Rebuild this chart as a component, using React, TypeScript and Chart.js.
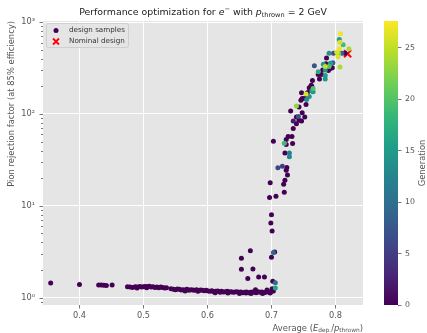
import React, { useEffect, useRef } from "react";
import { Chart, registerables } from "chart.js";
Chart.register(...registerables);

// ---------------- data ----------------
// flat band of early designs (generation 0)
const bandX = [
  0.355, 0.4, 0.43, 0.434, 0.438, 0.442, 0.451,
  0.475, 0.479, 0.483, 0.487, 0.49, 0.494, 0.497, 0.5, 0.503, 0.506, 0.509, 0.512, 0.515, 0.518, 0.521, 0.524, 0.527, 0.53, 0.533, 0.536,
  0.547, 0.55, 0.553, 0.556, 0.559, 0.562, 0.565, 0.568, 0.571, 0.574, 0.577, 0.58, 0.583, 0.586, 0.589, 0.592, 0.595, 0.598,
  0.601, 0.604, 0.607, 0.61, 0.613, 0.616, 0.619, 0.622, 0.625, 0.628, 0.631, 0.634, 0.637, 0.64, 0.643, 0.646, 0.649, 0.652, 0.655, 0.658,
  0.661, 0.664, 0.667, 0.67, 0.673, 0.676, 0.679, 0.682, 0.685, 0.688, 0.691, 0.694, 0.697, 0.7, 0.703,
  0.505, 0.49, 0.565, 0.585, 0.612, 0.632, 0.65, 0.668, 0.686, 0.698, 0.675, 0.693, 0.701, 0.543, 0.62, 0.66,
];
const bandY = [
  1.44, 1.39, 1.37, 1.37, 1.36, 1.35, 1.37,
  1.31, 1.3, 1.29, 1.31, 1.3, 1.32, 1.3, 1.31, 1.32, 1.31, 1.33, 1.3, 1.31, 1.29, 1.3, 1.28, 1.3, 1.29, 1.27, 1.28,
  1.23, 1.22, 1.24, 1.23, 1.21, 1.22, 1.21, 1.23, 1.2, 1.22, 1.21, 1.2, 1.22, 1.19, 1.21, 1.2, 1.19, 1.2,
  1.18, 1.17, 1.19, 1.16, 1.17, 1.18, 1.16, 1.17, 1.15, 1.16, 1.17, 1.15, 1.16, 1.14, 1.15, 1.16, 1.14, 1.15, 1.13, 1.14,
  1.15, 1.13, 1.14, 1.15, 1.14, 1.13, 1.16, 1.14, 1.15, 1.13, 1.14, 1.16, 1.15, 1.17, 1.18,
  1.28, 1.27, 1.18, 1.17, 1.13, 1.12, 1.11, 1.11, 1.11, 1.12, 1.22, 1.21, 1.25, 1.25, 1.14, 1.12,
];
const bandGen = 0;

// transition outliers
const transX = [0.667, 0.653, 0.653, 0.671, 0.663, 0.68, 0.689, 0.7, 0.705, 0.702, 0.699, 0.701, 0.7, 0.703, 0.706, 0.706];
const transY = [3.24, 2.68, 2.04, 2.05, 1.61, 1.68, 1.68, 2.75, 3.14, 1.51, 6.5, 5.3, 8.0, 3.1, 1.45, 1.27];
const transGen = [0, 0, 0, 0, 0, 0, 0, 0, 0, 0, 0, 0, 0, 9, 10, 16];

// steep rise
const riseX = [
  0.697, 0.707, 0.698, 0.72, 0.719, 0.721, 0.725, 0.723, 0.724, 0.71,
  0.717, 0.728, 0.728, 0.721, 0.703, 0.723, 0.733, 0.72, 0.723, 0.726,
  0.732, 0.734, 0.734, 0.739, 0.739, 0.743, 0.747, 0.752, 0.742, 0.748,
  0.73, 0.739, 0.743, 0.754, 0.746, 0.748, 0.751, 0.754, 0.755, 0.759,
  0.755, 0.756, 0.747, 0.76, 0.763, 0.765, 0.759, 0.762, 0.763, 0.765,
  0.764, 0.775, 0.784, 0.784, 0.778, 0.773, 0.773, 0.78, 0.784, 0.789,
  0.792, 0.795, 0.79, 0.784, 0.781, 0.785, 0.792, 0.796, 0.767, 0.807,
];
const riseY = [
  12.3, 12.7, 17.8, 14.0, 17.2, 19.0, 21.6, 24.4, 26.1, 25.9,
  27.0, 34.1, 37.6, 37.6, 50.5, 46.5, 47.6, 48.0, 52.7, 57.0,
  57.0, 69.4, 84.0, 78.5, 92.6, 85.5, 84.0, 92.6, 94.0, 103,
  108, 122, 119, 127, 141, 147, 147, 165, 144, 155,
  160, 170, 170, 181, 178, 175, 193, 206, 200, 190,
  232, 240, 240, 262, 270, 270, 288, 302, 302, 298,
  312, 318, 328, 328, 349, 353, 358, 361, 336, 324,
];
const riseGen = [
  0, 0, 0, 0, 0, 0, 0, 0, 0, 6,
  5, 13, 12, 0, 0, 0, 0, 19, 0, 0,
  0, 0, 2, 0, 0, 0, 0, 0, 7, 0,
  0, 23, 0, 0, 0, 0, 0, 26, 14, 14,
  0, 0, 0, 0, 15, 14, 0, 0, 0, 20,
  0, 0, 15, 15, 0, 0, 17, 0, 14, 0,
  0, 0, 20, 25, 15, 0, 15, 9, 7, 24,
];

// best designs near the top
const topX = [0.808, 0.806, 0.807, 0.812, 0.821, 0.806, 0.815, 0.81, 0.802, 0.797, 0.79, 0.786, 0.804, 0.805];
const topY = [748, 649, 606, 568, 514, 514, 460, 460, 470, 460, 460, 406, 420, 455];
const topGen = [27, 15, 26, 19, 24, 27, 0, 8, 26, 6, 14, 0, 26, 22];

const nominalX = [0.819];
const nominalY = [454];

const xTicks = [0.4, 0.5, 0.6, 0.7, 0.8];
const yTicks = [1, 10, 100, 1000];
const genTicks = [0, 5, 10, 15, 20, 25];
const X_MIN = 0.343;
const X_MAX = 0.843;
const Y_MIN = 0.83;
const Y_MAX = 1030;
const GEN_MAX = 27.6;

// ---------------- helpers ----------------
const FONT = '"DejaVu Sans", sans-serif';
const VIRIDIS = ["#440154", "#482878", "#3e4989", "#31688e", "#26828e", "#1f9e89", "#35b779", "#6ece58", "#b5de2b", "#fde725"];
function hexRgb(h: string) {
  return [parseInt(h.slice(1, 3), 16), parseInt(h.slice(3, 5), 16), parseInt(h.slice(5, 7), 16)];
}
function viridis(t: number): string {
  t = Math.max(0, Math.min(1, t));
  const n = VIRIDIS.length - 1;
  const f = t * n;
  const i = Math.min(n - 1, Math.floor(f));
  const u = f - i;
  const a = hexRgb(VIRIDIS[i]);
  const b = hexRgb(VIRIDIS[i + 1]);
  const c = a.map((v, k) => Math.round(v + (b[k] - v) * u));
  return `rgb(${c[0]},${c[1]},${c[2]})`;
}
const SUP: Record<string, string> = { "0": "⁰", "1": "¹", "2": "²", "3": "³" };

type Seg = { t: string; k: "n" | "i" | "sup" | "sub" };
function segFont(k: string, size: number) {
  const s = k === "sup" || k === "sub" ? size * 0.7 : size;
  return `${k === "i" ? "italic " : ""}${s}px ${FONT}`;
}
function richWidth(ctx: CanvasRenderingContext2D, segs: Seg[], size: number) {
  let w = 0;
  for (const s of segs) {
    ctx.font = segFont(s.k, size);
    w += ctx.measureText(s.t).width;
  }
  return w;
}
function drawRich(ctx: CanvasRenderingContext2D, segs: Seg[], x: number, y: number, size: number, color: string) {
  ctx.fillStyle = color;
  ctx.textAlign = "left";
  ctx.textBaseline = "alphabetic";
  let cx = x;
  for (const s of segs) {
    ctx.font = segFont(s.k, size);
    const dy = s.k === "sup" ? -size * 0.38 : s.k === "sub" ? size * 0.22 : 0;
    ctx.fillText(s.t, cx, y + dy);
    cx += ctx.measureText(s.t).width;
  }
}

const titleSegs: Seg[] = [
  { t: "Performance optimization for ", k: "n" },
  { t: "e", k: "i" },
  { t: "−", k: "sup" },
  { t: " with ", k: "n" },
  { t: "p", k: "i" },
  { t: "thrown", k: "sub" },
  { t: " = 2 GeV", k: "n" },
];
const xLabelSegs: Seg[] = [
  { t: "Average (", k: "n" },
  { t: "E", k: "i" },
  { t: "dep.", k: "sub" },
  { t: "/", k: "n" },
  { t: "p", k: "i" },
  { t: "thrown", k: "sub" },
  { t: ")", k: "n" },
];
const yLabel = "Pion rejection factor (at 85% efficiency)";

export default function App() {
  const mainRef = useRef<HTMLCanvasElement>(null);
  const cbRef = useRef<HTMLCanvasElement>(null);

  useEffect(() => {
    // assemble samples
    const pts: { x: number; y: number; g: number }[] = [];
    bandX.forEach((x, i) => pts.push({ x, y: bandY[i], g: bandGen }));
    transX.forEach((x, i) => pts.push({ x, y: transY[i], g: transGen[i] }));
    riseX.forEach((x, i) => pts.push({ x, y: riseY[i], g: riseGen[i] }));
    topX.forEach((x, i) => pts.push({ x, y: topY[i], g: topGen[i] }));
    pts.sort((a, b) => a.g - b.g);
    const colors = pts.map((p) => viridis(p.g / GEN_MAX));

    const decor = {
      id: "decor",
      beforeDraw(chart: any) {
        const { ctx, chartArea: a } = chart;
        ctx.save();
        ctx.fillStyle = "#E5E5E5";
        ctx.fillRect(a.left, a.top, a.right - a.left, a.bottom - a.top);
        ctx.restore();
      },
      afterDraw(chart: any) {
        const { ctx, chartArea: a } = chart;
        const xs = chart.scales.x;
        const ys = chart.scales.y;
        ctx.save();
        // tick marks
        ctx.strokeStyle = "#555";
        ctx.lineWidth = 0.8;
        ctx.beginPath();
        for (const v of xTicks) {
          const px = Math.round(xs.getPixelForValue(v)) + 0.5;
          ctx.moveTo(px, a.bottom);
          ctx.lineTo(px, a.bottom + 3.5);
        }
        for (let e = -1; e <= 3; e++) {
          for (let m = 1; m <= 9; m++) {
            const v = m * Math.pow(10, e);
            if (v < Y_MIN || v > Y_MAX) continue;
            const py = Math.round(ys.getPixelForValue(v)) + 0.5;
            const len = m === 1 ? 3.5 : 2;
            ctx.moveTo(a.left - len, py);
            ctx.lineTo(a.left, py);
          }
        }
        ctx.stroke();

        // title
        const tSize = 9.4;
        const tw = richWidth(ctx, titleSegs, tSize);
        drawRich(ctx, titleSegs, (a.left + a.right) / 2 - tw / 2, 15, tSize, "#222");

        // x label (right aligned)
        const lSize = 8.4;
        const xw = richWidth(ctx, xLabelSegs, lSize);
        drawRich(ctx, xLabelSegs, a.right - xw, 330.5, lSize, "#555");

        // y label (top aligned)
        ctx.translate(11.5, a.top);
        ctx.rotate(-Math.PI / 2);
        ctx.font = `${lSize}px ${FONT}`;
        ctx.fillStyle = "#555";
        ctx.textAlign = "right";
        ctx.textBaseline = "middle";
        ctx.fillText(yLabel, 0, 0);
        ctx.setTransform(1, 0, 0, 1, 0, 0);

        // legend
        const bx = 46, by = 23, bw = 82, bh = 24;
        ctx.beginPath();
        if ((ctx as any).roundRect) (ctx as any).roundRect(bx + 0.5, by + 0.5, bw, bh, 2);
        else ctx.rect(bx + 0.5, by + 0.5, bw, bh);
        ctx.fillStyle = "rgba(229,229,229,0.8)";
        ctx.fill();
        ctx.strokeStyle = "#cfcfcf";
        ctx.lineWidth = 1;
        ctx.stroke();
        ctx.beginPath();
        ctx.fillStyle = viridis(0);
        ctx.arc(56, 30.5, 2.5, 0, Math.PI * 2);
        ctx.fill();
        ctx.strokeStyle = "red";
        ctx.lineWidth = 1.8;
        ctx.beginPath();
        ctx.moveTo(53, 38.5);
        ctx.lineTo(59, 44.5);
        ctx.moveTo(59, 38.5);
        ctx.lineTo(53, 44.5);
        ctx.stroke();
        ctx.font = `7.2px ${FONT}`;
        ctx.fillStyle = "#333";
        ctx.textAlign = "left";
        ctx.textBaseline = "middle";
        ctx.fillText("design samples", 69, 30.5);
        ctx.fillText("Nominal design", 69, 41.5);
        ctx.restore();
      },
    };

    const main = new Chart(mainRef.current!, {
      type: "scatter",
      data: {
        datasets: [
          {
            label: "design samples",
            data: pts.map((p) => ({ x: p.x, y: p.y })),
            pointBackgroundColor: colors,
            pointBorderColor: colors,
            pointBorderWidth: 0,
            pointRadius: 2.5,
            pointHoverRadius: 2.5,
            showLine: false,
          } as any,
          {
            label: "Nominal design",
            data: nominalX.map((x, i) => ({ x, y: nominalY[i] })),
            pointStyle: "crossRot",
            pointRadius: 5,
            pointHoverRadius: 5,
            pointBorderColor: "red",
            pointBackgroundColor: "red",
            pointBorderWidth: 2,
            showLine: false,
          } as any,
        ],
      },
      options: {
        animation: false,
        responsive: false,
        devicePixelRatio: 1,
        events: [],
        layout: { padding: { top: 21, right: 64, bottom: 0, left: 0 } },
        plugins: { legend: { display: false }, tooltip: { enabled: false }, title: { display: false } },
        scales: {
          x: {
            type: "linear",
            min: X_MIN,
            max: X_MAX,
            afterBuildTicks: (s: any) => {
              s.ticks = xTicks.map((v) => ({ value: v }));
            },
            afterFit: (s: any) => {
              s.height = 28;
            },
            grid: { color: "#ffffff", lineWidth: 1, drawTicks: false },
            border: { display: false },
            ticks: {
              autoSkip: false,
              maxRotation: 0,
              padding: 6,
              color: "#555",
              font: { family: FONT, size: 8.2 },
              callback: (v: any) => Number(v).toFixed(1),
            },
          },
          y: {
            type: "logarithmic",
            min: Y_MIN,
            max: Y_MAX,
            afterBuildTicks: (s: any) => {
              s.ticks = yTicks.map((v) => ({ value: v }));
            },
            afterFit: (s: any) => {
              s.width = 43;
            },
            grid: { color: "#ffffff", lineWidth: 1, drawTicks: false },
            border: { display: false },
            ticks: {
              autoSkip: false,
              padding: 8,
              color: "#555",
              font: { family: FONT, size: 8.2 },
              callback: (v: any) => {
                const e = Math.round(Math.log10(Number(v)));
                return "10" + String(e).split("").map((c) => SUP[c] || c).join("");
              },
            },
          },
        },
      } as any,
      plugins: [decor],
    });

    const cbDecor = {
      id: "cbDecor",
      afterDraw(chart: any) {
        const { ctx, chartArea: a } = chart;
        ctx.save();
        ctx.translate(53, (a.top + a.bottom) / 2);
        ctx.rotate(-Math.PI / 2);
        ctx.font = `8.4px ${FONT}`;
        ctx.fillStyle = "#555";
        ctx.textAlign = "center";
        ctx.textBaseline = "middle";
        ctx.fillText("Generation", 0, 0);
        ctx.restore();
      },
    };

    const cb = new Chart(cbRef.current!, {
      type: "bar",
      data: {
        labels: ["Generation"],
        datasets: [
          {
            data: [[0, GEN_MAX]],
            borderWidth: 0,
            barPercentage: 1,
            categoryPercentage: 1,
            backgroundColor: (c: any) => {
              const area = c.chart.chartArea;
              if (!area) return viridis(0.5);
              const g = c.chart.ctx.createLinearGradient(0, area.bottom, 0, area.top);
              VIRIDIS.forEach((col, i) => g.addColorStop(i / (VIRIDIS.length - 1), col));
              return g;
            },
          } as any,
        ],
      },
      options: {
        animation: false,
        responsive: false,
        devicePixelRatio: 1,
        events: [],
        layout: { padding: { top: 21, bottom: 28, left: 14, right: 0 } },
        plugins: { legend: { display: false }, tooltip: { enabled: false } },
        scales: {
          x: { display: false },
          y: {
            position: "right",
            min: 0,
            max: GEN_MAX,
            afterBuildTicks: (s: any) => {
              s.ticks = genTicks.map((v) => ({ value: v }));
            },
            afterFit: (s: any) => {
              s.width = 29;
            },
            grid: { drawOnChartArea: false, drawTicks: true, tickLength: 3.5, tickColor: "#555", color: "#555", lineWidth: 0.8 },
            border: { display: false },
            ticks: { autoSkip: false, padding: 3.5, color: "#555", font: { family: FONT, size: 7.8 } },
          },
        },
      } as any,
      plugins: [cbDecor],
    });

    return () => {
      main.destroy();
      cb.destroy();
    };
  }, []);

  return (
    <div style={{ position: "fixed", left: 0, top: 0, width: 427, height: 333, background: "#fff" }}>
      <canvas ref={mainRef} width={427} height={333} style={{ position: "absolute", left: 0, top: 0, width: 427, height: 333 }} />
      <canvas ref={cbRef} width={57} height={333} style={{ position: "absolute", left: 370, top: 0, width: 57, height: 333 }} />
    </div>
  );
}
